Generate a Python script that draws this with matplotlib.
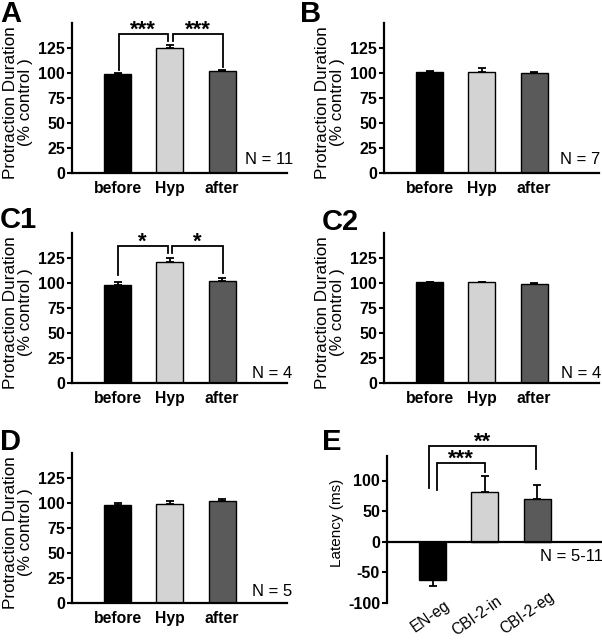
import matplotlib
matplotlib.use("Agg")
import matplotlib.pyplot as plt
import matplotlib.transforms as mtransforms

plt.rcParams['font.family'] = ['Liberation Sans', 'DejaVu Sans']
plt.rcParams['axes.unicode_minus'] = False

# ---------------- data ----------------
cats = ['before', 'Hyp', 'after']
A_means = [99.3, 125.3, 102]
A_err = [0.8, 3.2, 1.2]
B_means = [101.5, 101.5, 100]
B_err = [0.3, 3.5, 0.6]
C1_means = [98, 120.7, 102]
C1_err = [2.8, 4.0, 3.0]
C2_means = [101, 101, 99.5]
C2_err = [0.5, 0.5, 0.5]
D_means = [98.5, 99, 102]
D_err = [2.0, 3.2, 2.0]
E_cats = ['EN-eg', 'CBI-2-in', 'CBI-2-eg']
E_means = [-62, 82, 70]
E_err = [11, 26, 23]

N_labels = ['N = 11', 'N = 7', 'N = 4', 'N = 4', 'N = 5', 'N = 5-11']
panel_letters = ['A', 'B', 'C1', 'C2', 'D', 'E']
colors = ['#000000', '#d3d3d3', '#5a5a5a']

W, H = 602, 640
fig = plt.figure(figsize=(W / 100, H / 100), dpi=100)


def px_axes(left, top, width, height):
    return fig.add_axes([left / W, 1 - (top + height) / H, width / W, height / H])


def style_axes(ax, xbold=True):
    for s in ['top', 'right']:
        ax.spines[s].set_visible(False)
    for s in ['left', 'bottom']:
        ax.spines[s].set_linewidth(1.6)
    ax.tick_params(axis='y', direction='out', length=3.5, width=1.5, pad=1.5,
                   labelsize=11.5)
    ax.tick_params(axis='x', length=0, pad=5.5, labelsize=11.3)
    for lab in ax.get_yticklabels():
        lab.set_fontweight('bold')
    if xbold:
        for lab in ax.get_xticklabels():
            lab.set_fontweight('bold')


def bar_panel(ax, means, errs, ylabel):
    x = [1, 2, 3]
    ax.bar(x, means, width=0.52, color=colors, edgecolor='black', linewidth=1.0,
           zorder=2)
    ax.errorbar(x, means, yerr=[[0] * 3, errs], fmt='none', ecolor='black',
                elinewidth=1.3, capsize=3, capthick=1.3, zorder=1)
    ax.set_xlim(0.13, 4.24)
    ax.set_ylim(0, 150)
    ax.set_yticks([0, 25, 50, 75, 100, 125])
    ax.set_xticks(x)
    ax.set_xticklabels(cats)
    style_axes(ax)
    ax.text(-54 / 215, 0.47, ylabel, transform=ax.transAxes, rotation=90,
            ha='center', va='center', multialignment='center', fontsize=12.3,
            linespacing=0.95)


def bracket(ax, x1, x2, y_top, y1, y2, label):
    ax.plot([x1, x1, x2, x2], [y1, y_top, y_top, y2], color='black', lw=1.3,
            clip_on=False, solid_joinstyle='miter')
    ax.annotate(label, xy=((x1 + x2) / 2, y_top), xytext=(0, -1.5),
                textcoords='offset points', ha='center', va='baseline',
                fontsize=16, fontweight='bold', annotation_clip=False)


ylab = 'Protraction Duration\n(% control )'
axA = px_axes(72, 23, 215, 150)
bar_panel(axA, A_means, A_err, ylab)
bracket(axA, 1.03, 1.96, 139, 103, 132, '***')
bracket(axA, 2.06, 3.02, 139, 132, 106, '***')

axB = px_axes(384, 23, 215, 150)
bar_panel(axB, B_means, B_err, ylab)

axC1 = px_axes(72, 233, 215, 150)
bar_panel(axC1, C1_means, C1_err, ylab)
bracket(axC1, 1.0, 1.96, 137, 108, 130, '*')
bracket(axC1, 2.04, 3.02, 137, 130, 110, '*')

axC2 = px_axes(384, 233, 215, 150)
bar_panel(axC2, C2_means, C2_err, ylab)

axD = px_axes(72, 453, 215, 150)
bar_panel(axD, D_means, D_err, ylab)

# ---------------- panel E ----------------
axE = px_axes(387, 456, 215, 147)
xe = [1, 2, 3]
axE.bar(xe, E_means, width=0.52, color=colors, edgecolor='black',
        linewidth=1.0, zorder=2)
low = [E_err[i] if E_means[i] < 0 else 0 for i in range(3)]
high = [E_err[i] if E_means[i] >= 0 else 0 for i in range(3)]
axE.errorbar(xe, E_means, yerr=[low, high], fmt='none', ecolor='black',
             elinewidth=1.3, capsize=3, capthick=1.3, zorder=1)
axE.set_xlim(0.13, 4.24)
axE.set_ylim(-100, 140)
axE.set_yticks([-100, -50, 0, 50, 100])
axE.axhline(0, color='black', lw=1.6, zorder=3)
axE.set_xticks(xe)
axE.set_xticklabels(E_cats, rotation=35, ha='right', va='top',
                    rotation_mode='anchor')
style_axes(axE, xbold=False)
axE.tick_params(axis='x', labelsize=11.2)
axE.spines['bottom'].set_visible(False)
for lab, dy in zip(axE.get_xticklabels(), [13, 17, 21]):
    off = mtransforms.ScaledTranslation(11 / 100, dy / 100, fig.dpi_scale_trans)
    lab.set_transform(lab.get_transform() + off)
axE.text(-50 / 215, 0.545, 'Latency (ms)', transform=axE.transAxes,
         rotation=90, ha='center', va='center', fontsize=11)
bracket(axE, 1.08, 2.0, 129, 85, 114, '***')
bracket(axE, 0.94, 2.98, 157, 87, 118, '**')

# N labels
axes_list = [axA, axB, axC1, axC2, axD, axE]
n_pos = [(1.028, 13), (1.005, 13), (1.023, 10), (1.01, 10), (1.023, 11),
         (1.005, -24)]
for ax, lab, (xx, yy) in zip(axes_list, N_labels, n_pos):
    ax.text(xx, yy, lab, transform=ax.get_yaxis_transform(), ha='right',
            va='center', fontsize=12, clip_on=False)

# panel letters (baseline positions in pixels)
letter_pos = [(0, 22), (300, 22), (0, 228), (322, 230), (0, 450), (322, 450)]
for lab, (lx, ly) in zip(panel_letters, letter_pos):
    fig.text(lx / W, 1 - ly / H, lab, ha='left', va='baseline', fontsize=21,
             fontweight='bold')

fig.savefig('out.png', dpi=100)
